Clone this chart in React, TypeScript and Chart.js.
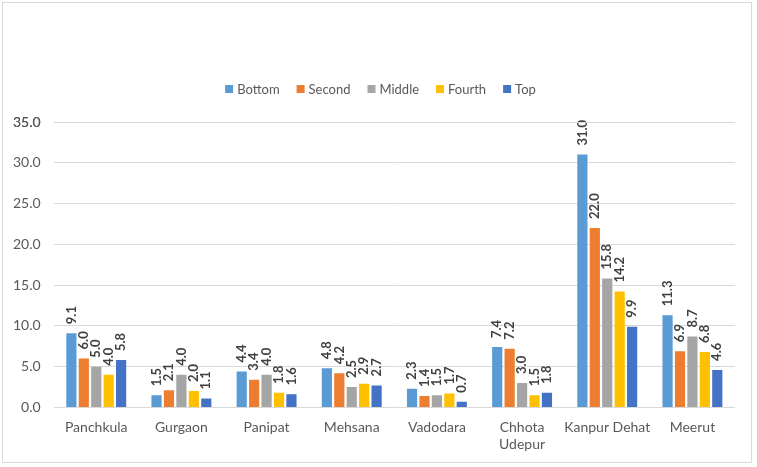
import React, { useEffect, useRef } from "react";
import { Chart, registerables } from "chart.js";

Chart.register(...registerables);

const categories: (string | string[])[] = [
  "Panchkula",
  "Gurgaon",
  "Panipat",
  "Mehsana",
  "Vadodara",
  ["Chhota", "Udepur"],
  "Kanpur Dehat",
  "Meerut",
];
const seriesNames = ["Bottom", "Second", "Middle", "Fourth", "Top"];
const bottomSeries = [9.1, 1.5, 4.4, 4.8, 2.3, 7.4, 31.0, 11.3];
const secondSeries = [6.0, 2.1, 3.4, 4.2, 1.4, 7.2, 22.0, 6.9];
const middleSeries = [5.0, 4.0, 4.0, 2.5, 1.5, 3.0, 15.8, 8.7];
const fourthSeries = [4.0, 2.0, 1.8, 2.9, 1.7, 1.5, 14.2, 6.8];
const topSeries = [5.8, 1.1, 1.6, 2.7, 0.7, 1.8, 9.9, 4.6];
const colors = ["#5B9BD5", "#ED7D31", "#A5A5A5", "#FFC000", "#4472C4"];
const yMin = 0;
const yMax = 35;
const yStep = 5;

const FONT = "Lato, 'Open Sans', sans-serif";

const labelsPlugin = {
  id: "barLabelsAndLegend",
  afterDatasetsDraw(chart: any) {
    const ctx = chart.ctx;
    ctx.save();
    ctx.font = `bold 13px ${FONT}`;
    ctx.fillStyle = "#404040";
    ctx.textAlign = "left";
    ctx.textBaseline = "middle";
    chart.data.datasets.forEach((ds: any, i: number) => {
      const meta = chart.getDatasetMeta(i);
      meta.data.forEach((bar: any, j: number) => {
        const v = ds.data[j] as number;
        ctx.save();
        ctx.translate(bar.x, bar.y - 9);
        ctx.rotate(-Math.PI / 2);
        ctx.fillText(v.toFixed(1), 0, 0);
        ctx.restore();
      });
    });
    ctx.restore();
  },
  afterDraw(chart: any) {
    const ctx = chart.ctx;
    const width = chart.width;
    const ys = chart.scales.y;
    const area = chart.chartArea;
    // make sure the top tick (yMax) gridline and label are present
    ctx.save();
    const py = Math.round(ys.getPixelForValue(yMax)) + 0.5;
    ctx.strokeStyle = "#d9d9d9";
    ctx.lineWidth = 1;
    ctx.beginPath();
    ctx.moveTo(area.left, py);
    ctx.lineTo(area.right, py);
    ctx.stroke();
    ctx.font = `14px ${FONT}`;
    ctx.fillStyle = "#595959";
    ctx.textAlign = "right";
    ctx.textBaseline = "middle";
    ctx.fillText(yMax.toFixed(1), ys.right - 13, py);
    ctx.restore();

    ctx.save();
    ctx.font = `13px ${FONT}`;
    ctx.textBaseline = "middle";
    ctx.textAlign = "left";
    const box = 8;
    const gapBox = 4;
    const gapItem = 17;
    const widths = seriesNames.map((n) => box + gapBox + ctx.measureText(n).width);
    const total = widths.reduce((a, b) => a + b, 0) + gapItem * (seriesNames.length - 1);
    let x = width / 2 - total / 2 + 2;
    const y = 89;
    seriesNames.forEach((n, i) => {
      ctx.fillStyle = colors[i];
      ctx.fillRect(x, y - box / 2, box, box);
      ctx.fillStyle = "#595959";
      ctx.fillText(n, x + box + gapBox, y + 0.5);
      x += widths[i] + gapItem;
    });
    ctx.restore();
  },
};

export default function App() {
  const ref = useRef<HTMLCanvasElement | null>(null);
  useEffect(() => {
    if (!ref.current) return;
    const data = [bottomSeries, secondSeries, middleSeries, fourthSeries, topSeries];
    const chart = new Chart(ref.current, {
      type: "bar",
      data: {
        labels: categories,
        datasets: seriesNames.map((name, i) => ({
          label: name,
          data: data[i],
          backgroundColor: colors[i],
          borderWidth: 0,
          categoryPercentage: 0.73,
          barPercentage: 0.82,
        })),
      },
      options: {
        responsive: false,
        animation: false,
        layout: { padding: { top: 122, left: 0, right: 22, bottom: 2 } },
        plugins: {
          legend: { display: false },
          tooltip: { enabled: false },
        },
        scales: {
          x: {
            grid: { display: false, drawTicks: false },
            border: { display: false },
            ticks: {
              color: "#595959",
              font: { family: FONT, size: 14 },
              padding: 12,
              maxRotation: 0,
              autoSkip: false,
            },
          },
          y: {
            min: yMin,
            max: yMax,
            grid: { color: "#d9d9d9", drawTicks: false },
            border: { display: false },
            ticks: {
              stepSize: yStep,
              color: "#595959",
              font: { family: FONT, size: 14 },
              padding: 13,
              callback: (v: any) => Number(v).toFixed(1),
            },
          },
        },
      },
      plugins: [labelsPlugin],
    });
    return () => chart.destroy();
  }, []);
  return (
    <div style={{ position: "fixed", left: 0, top: 0, width: 757, height: 467, background: "#ffffff" }}>
      <canvas ref={ref} width={757} height={467} style={{ display: "block" }} />
      <div
        style={{
          position: "absolute",
          left: 2,
          top: 2,
          width: 750,
          height: 461,
          border: "1px solid #d9d9d9",
          boxSizing: "border-box",
          pointerEvents: "none",
        }}
      />
    </div>
  );
}
